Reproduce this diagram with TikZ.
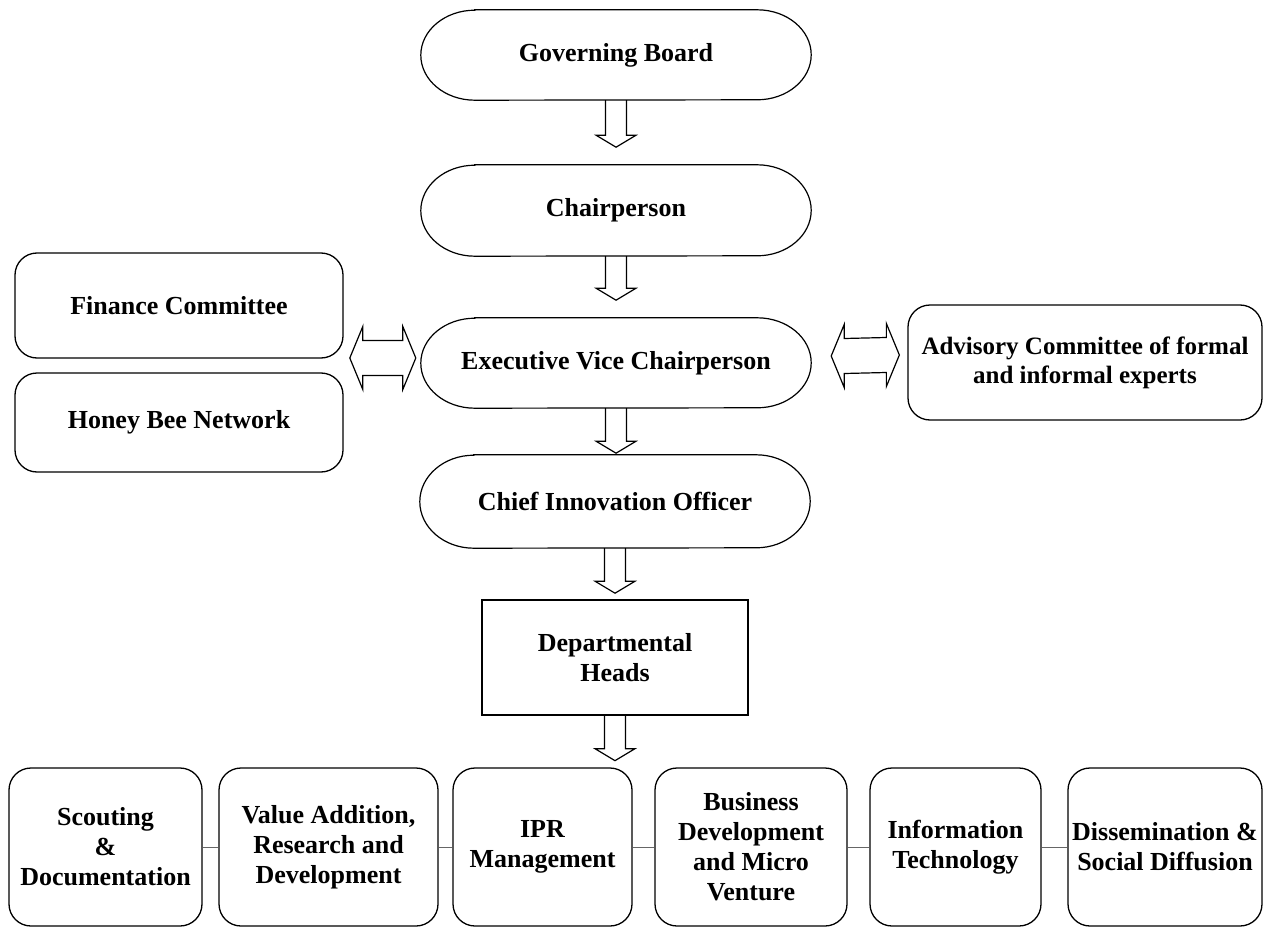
\documentclass[tikz,border=0pt]{standalone}
\usepackage{fontspec}
\setmainfont{Liberation Serif}
\usetikzlibrary{calc}
\newcommand\stadiumpath[2]{%
  \draw[line width=1.2pt] ($(#1.north west)+(54,0)$) -- ($(#1.north east)+(-54,0)$)
    arc[start angle=90,end angle=-90,x radius=54pt,y radius=#2pt]
    -- ($(#1.south west)+(54,0)$)
    arc[start angle=270,end angle=90,x radius=54pt,y radius=#2pt] -- cycle;}
\newcommand\hollowdown[2]{%
  \draw[conn] ($(#1.south)+(-10.5,0)$) -- ++(0,{-#2+12}) -- ++(-9.5,0)
    -- ($(#1.south)+(0,-#2)$) -- ($(#1.south)+(20,{-#2+12})$) -- ++(-9.5,0)
    -- ($(#1.south)+(10.5,0)$);}
\newcommand\dblarrow[2]{%
  \draw[conn] (#1) -- ++(13,31.5) -- ++(0,-14) -- ($(#2)+(-13,17.5)$) -- ++(0,14)
    -- (#2) -- ++(-13,-31.5) -- ++(0,14) -- ($(#1)+(13,-17.5)$) -- ++(0,-14) -- cycle;}
\begin{document}
\begin{tikzpicture}[x=1pt,y=1pt,
  every node/.style={font=\bfseries\fontsize{26}{30}\selectfont, align=center, inner sep=0pt},
  stad/.style={minimum width=390pt},
  box/.style={draw, line width=1.3pt, rounded corners=22pt},
  rect/.style={draw, line width=1.3pt},
  conn/.style={line width=1.2pt, line join=miter},
  link/.style={line width=1pt, draw=black!60}]
\useasboundingbox (0,0) rectangle (1263,-928);

% central column
\node[stad, minimum height=90pt] (GB) at (616,-55) {Governing Board};
\stadiumpath{GB}{45}
\node[stad, minimum height=91pt] (CH) at (616,-210.5) {Chairperson};
\stadiumpath{CH}{45.5}
\node[stad, minimum height=90pt] (EVC) at (616,-363) {Executive Vice Chairperson};
\stadiumpath{EVC}{45}
\node[stad, minimum height=93pt] (CIO) at (615,-501.5) {Chief Innovation Officer};
\stadiumpath{CIO}{46.5}
\node[rect, minimum width=266pt, minimum height=115pt] (DH) at (615,-657.5) {Departmental\\Heads};

% side boxes
\node[box, minimum width=328pt, minimum height=105pt] (FC) at (179,-305.5) {Finance Committee};
\node[box, minimum width=328pt, minimum height=99pt] (HB) at (179,-422.5) {Honey Bee Network};
\node[box, minimum width=354pt, minimum height=115pt, font=\bfseries\fontsize{25}{29}\selectfont] (ADV) at (1085,-362.5) {Advisory Committee of formal\\and informal experts};

% bottom row
\node[box, minimum width=193pt, minimum height=158pt] (SC) at (105.5,-847) {Scouting\\\&\\Documentation};
\node[box, minimum width=219pt, minimum height=158pt] (VA) at (328.5,-847) {Value Addition,\\Research and\\Development};
\node[box, minimum width=179pt, minimum height=158pt] (IPR) at (542.5,-847) {IPR\\Management};
\node[box, minimum width=192pt, minimum height=158pt] (BD) at (751,-847) {Business\\Development\\and Micro\\Venture};
\node[box, minimum width=171pt, minimum height=158pt] (IT) at (955.5,-847) {Information\\Technology};
\node[box, minimum width=194pt, minimum height=158pt] (DS) at (1165,-847) {Dissemination \&\\Social Diffusion};

% down arrows
\hollowdown{GB}{47}
\hollowdown{CH}{44}
\hollowdown{EVC}{45}
\hollowdown{CIO}{45}
\hollowdown{DH}{45}

% double arrows
\coordinate (la) at ($(EVC.west)+(-71,5)$);
\coordinate (lb) at ($(EVC.west)+(-5,5)$);
\dblarrow{la}{lb}
\coordinate (ra) at ($(EVC.east)+(20,7)$);
\coordinate (rb) at ($(ADV.west)+(-8,7.5)$);
\dblarrow{ra}{rb}

% bottom links
\draw[link] (SC.east) -- (VA.west);
\draw[link] (VA.east) -- (IPR.west);
\draw[link] (IPR.east) -- (BD.west);
\draw[link] (BD.east) -- (IT.west);
\draw[link] (IT.east) -- (DS.west);
\end{tikzpicture}
\end{document}
